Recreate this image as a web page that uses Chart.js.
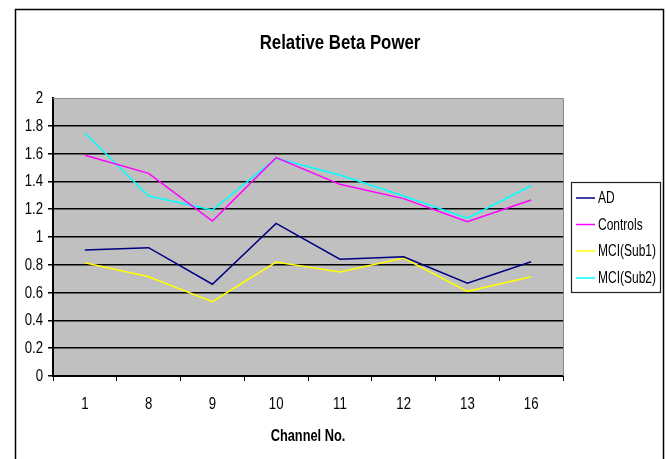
<!DOCTYPE html>
<html>
<head>
<meta charset="utf-8">
<script src="https://cdn.jsdelivr.net/npm/chart.js@4.4.1/dist/chart.umd.min.js"></script>
<style>
html,body{margin:0;padding:0;background:#fff;}
canvas{display:block;}
</style>
</head>
<body>
<canvas id="c" width="666" height="459"></canvas>
<script>
const categories = ["1","8","9","10","11","12","13","16"];
const adValues       = [0.906, 0.923, 0.660, 1.098, 0.840, 0.858, 0.668, 0.822];
const controlsValues = [1.588, 1.458, 1.115, 1.571, 1.379, 1.276, 1.110, 1.266];
const mci1Values     = [0.815, 0.714, 0.535, 0.820, 0.748, 0.849, 0.609, 0.714];
const mci2Values     = [1.748, 1.295, 1.194, 1.566, 1.446, 1.295, 1.135, 1.369];
const seriesNames = ["AD","Controls","MCI(Sub1)","MCI(Sub2)"];
const yTickLabels = ["0","0.2","0.4","0.6","0.8","1","1.2","1.4","1.6","1.8","2"];
const chartTitle = "Relative Beta Power";
const xAxisTitle = "Channel No.";

const FONT = "'Liberation Sans', Arial, sans-serif";

// draw horizontally condensed text (emulates Arial Narrow look)
function condText(ctx, text, x, y, font, sx, align) {
  ctx.save();
  ctx.font = font;
  ctx.textBaseline = 'middle';
  ctx.textAlign = align;
  ctx.translate(x, y);
  ctx.scale(sx, 1);
  ctx.fillStyle = '#000';
  ctx.fillText(text, 0, 0);
  ctx.restore();
}

const decor = {
  id: 'decor',
  beforeDraw(chart) {
    const ctx = chart.ctx, a = chart.chartArea;
    ctx.save();
    ctx.fillStyle = '#fff';
    ctx.fillRect(0, 0, chart.width, chart.height);
    ctx.fillStyle = '#C0C0C0';
    ctx.fillRect(a.left, a.top, a.right - a.left, a.bottom - a.top);
    ctx.restore();
  },
  afterDraw(chart) {
    const ctx = chart.ctx, a = chart.chartArea;
    const xs = chart.scales.x, ys = chart.scales.y;
    ctx.save();
    ctx.strokeStyle = '#8a8a8a';
    ctx.lineWidth = 1;
    ctx.beginPath();
    ctx.moveTo(a.left, a.top + 0.5);
    ctx.lineTo(a.right + 0.5, a.top + 0.5);
    ctx.lineTo(a.right + 0.5, a.bottom);
    ctx.stroke();
    ctx.strokeStyle = '#000';
    ctx.lineWidth = 1.5;
    ctx.beginPath();
    ctx.moveTo(15.5, 470);
    ctx.lineTo(15.5, 9.5);
    ctx.lineTo(663.5, 9.5);
    ctx.lineTo(663.5, 470);
    ctx.stroke();
    ctx.restore();

    // tick labels via the library's scales
    yTickLabels.forEach((t) => {
      condText(ctx, t, 43, ys.getPixelForValue(parseFloat(t)) + 0.5, "16.5px " + FONT, 0.8, 'right');
    });
    categories.forEach((c, i) => {
      condText(ctx, c, xs.getPixelForValue(i), 404, "16.5px " + FONT, 0.8, 'center');
    });

    condText(ctx, chartTitle, 340, 43, "bold 20.5px " + FONT, 0.82, 'center');
    condText(ctx, xAxisTitle, (a.left + a.right) / 2, 437, "bold 16px " + FONT, 0.8, 'center');

    const lx = 571, ly = 182, lw = 89, lh = 110;
    ctx.save();
    ctx.fillStyle = '#fff';
    ctx.fillRect(lx, ly, lw, lh);
    ctx.strokeStyle = '#222';
    ctx.lineWidth = 1.2;
    ctx.strokeRect(lx + 0.5, ly + 0.5, lw, lh);
    const ly0 = [198, 224.5, 251, 278];
    chart.data.datasets.forEach((ds, i) => {
      ctx.strokeStyle = ds.borderColor;
      ctx.lineWidth = 1.5;
      ctx.beginPath();
      ctx.moveTo(576, ly0[i]);
      ctx.lineTo(595, ly0[i]);
      ctx.stroke();
      condText(ctx, ds.label, 598, ly0[i] + 1, "16px " + FONT, 0.75, 'left');
    });
    ctx.restore();
  }
};

const mk = (label, data, color) => ({
  label, data, borderColor: color, backgroundColor: color,
  borderWidth: 1.5, pointRadius: 0, pointHoverRadius: 0, tension: 0, fill: false
});

new Chart(document.getElementById('c'), {
  type: 'line',
  data: {
    labels: categories,
    datasets: [
      mk(seriesNames[0], adValues, '#000080'),
      mk(seriesNames[1], controlsValues, '#FF00FF'),
      mk(seriesNames[2], mci1Values, '#FFFF00'),
      mk(seriesNames[3], mci2Values, '#00FFFF')
    ]
  },
  options: {
    responsive: false,
    animation: false,
    devicePixelRatio: 1,
    layout: { padding: { left: 15, top: 98, right: 103, bottom: 0 } },
    plugins: { legend: { display: false }, title: { display: false }, tooltip: { enabled: false } },
    scales: {
      x: {
        offset: true,
        afterFit(s) { s.height = 83; },
        grid: { drawOnChartArea: false, drawTicks: true, tickLength: 5, offset: true, color: '#000', lineWidth: 1 },
        border: { display: true, color: '#000', width: 2 },
        ticks: { display: false, maxRotation: 0 }
      },
      y: {
        min: 0, max: 2,
        afterFit(s) { s.width = 38; },
        afterBuildTicks(s) { s.ticks = yTickLabels.map(t => ({ value: parseFloat(t) })); },
        grid: {
          color: (c) => (c.tick && c.tick.value === 2) ? 'rgba(0,0,0,0)' : '#000',
          lineWidth: 1.5, drawTicks: true, tickLength: 5
        },
        border: { display: true, color: '#000', width: 2 },
        ticks: { display: false }
      }
    }
  },
  plugins: [decor]
});
</script>
</body>
</html>
